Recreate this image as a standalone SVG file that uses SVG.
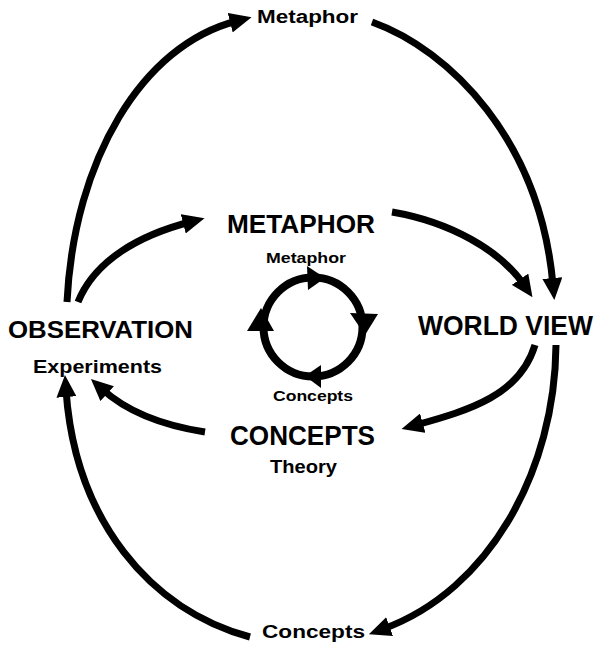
<svg xmlns="http://www.w3.org/2000/svg" width="598" height="647" viewBox="0 0 598 647">
<defs>
<style>
.t{font-family:"Liberation Sans","DejaVu Sans",sans-serif;font-weight:bold;fill:#000}
.c path{fill:none;stroke:#000;stroke-width:7}
.h{fill:#000}
</style>
<marker id="ah" viewBox="0 0 22 20" refX="7" refY="10" markerWidth="22" markerHeight="20" markerUnits="userSpaceOnUse" orient="auto">
<path d="M0,0 L22,10 L0,20 z" fill="#000"/>
</marker>
</defs>
<rect width="598" height="647" fill="#fff"/>
<g id="connectors" class="c">
<path d="M67,302 C74,160 142,45 237,21" marker-end="url(#ah)"/>
<path d="M372,22 C450,50 540,140 553,285" marker-end="url(#ah)"/>
<path d="M78,302 C95,260 140,235 190,222" marker-end="url(#ah)"/>
<path d="M392,212 C450,222 500,250 524,285" marker-end="url(#ah)"/>
<path d="M535,345 C520,395 470,410 416,425" marker-end="url(#ah)"/>
<path d="M556,345 C555,470 490,590 383,629" marker-end="url(#ah)"/>
<path d="M205,432 C160,425 125,410 102,389" marker-end="url(#ah)"/>
<path d="M250,637 C150,610 75,520 66,390" marker-end="url(#ah)"/>
</g>
<g id="cycle">
<circle cx="313" cy="327" r="49.5" fill="none" stroke="#000" stroke-width="8"/>
<polygon class="h" points="325,278 307,266 308,290"/>
<polygon class="h" points="365,335 350,313 378,314"/>
<polygon class="h" points="305,376 321,365 321,388"/>
<polygon class="h" points="261,308 247,331 274,331"/>
</g>
<g id="n-metaphor-top"><text class="t" x="257" y="23" font-size="18" textLength="101" lengthAdjust="spacingAndGlyphs">Metaphor</text></g>
<g id="n-metaphor"><text class="t" x="227" y="233" font-size="25" textLength="148" lengthAdjust="spacingAndGlyphs">METAPHOR</text></g>
<g id="n-metaphor-small"><text class="t" x="266" y="263" font-size="14.5" textLength="80" lengthAdjust="spacingAndGlyphs">Metaphor</text></g>
<g id="n-concepts-small"><text class="t" x="273" y="401" font-size="14.5" textLength="80" lengthAdjust="spacingAndGlyphs">Concepts</text></g>
<g id="n-observation">
<text class="t" x="8" y="338" font-size="23" textLength="185" lengthAdjust="spacingAndGlyphs">OBSERVATION</text>
<text class="t" x="33" y="373" font-size="18" textLength="129" lengthAdjust="spacingAndGlyphs">Experiments</text>
</g>
<g id="n-worldview"><text class="t" x="418" y="335" font-size="27" textLength="175" lengthAdjust="spacingAndGlyphs">WORLD VIEW</text></g>
<g id="n-concepts">
<text class="t" x="230" y="445" font-size="27" textLength="145" lengthAdjust="spacingAndGlyphs">CONCEPTS</text>
<text class="t" x="270" y="473" font-size="19" textLength="67" lengthAdjust="spacingAndGlyphs">Theory</text>
</g>
<g id="n-concepts-bottom"><text class="t" x="262" y="638" font-size="19" textLength="103" lengthAdjust="spacingAndGlyphs">Concepts</text></g>
</svg>
